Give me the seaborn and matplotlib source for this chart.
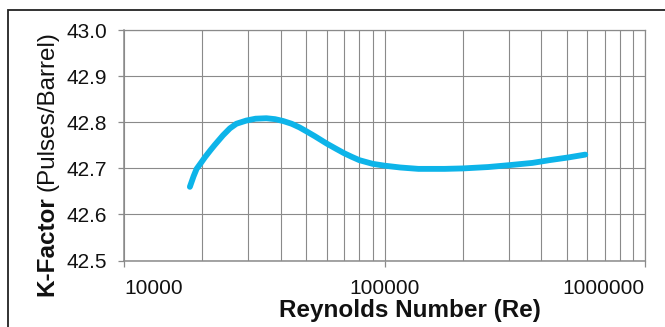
import matplotlib
matplotlib.use("Agg")
import matplotlib.pyplot as plt
import matplotlib.ticker as mticker
from matplotlib.patches import Rectangle
import pandas as pd
import seaborn as sns

# --- DATA ---
reynolds = [17900, 18500, 19000, 19800, 20500, 21500, 22300, 24000, 25500,
            27000, 29500, 32000, 35200, 38000, 40800, 44000, 47200, 50000,
            54000, 60000, 65000, 70000, 75000, 80000, 90000, 100000, 115000,
            135000, 170000, 200000, 250000, 300000, 370000, 430000, 510000,
            590000]
k_factor = [42.660, 42.683, 42.699, 42.713, 42.725, 42.740, 42.751, 42.772,
            42.787, 42.797, 42.804, 42.808, 42.809, 42.807, 42.803, 42.797,
            42.789, 42.781, 42.770, 42.754, 42.743, 42.733, 42.725, 42.718,
            42.710, 42.706, 42.702, 42.699, 42.699, 42.700, 42.703, 42.707,
            42.712, 42.718, 42.724, 42.730]
y_ticks = [42.5, 42.6, 42.7, 42.8, 42.9, 43.0]
x_ticks = [10000, 100000, 1000000]

LINE_COLOR = "#0DB4E9"
GRID_COLOR = "#8a8a8a"

sns.set_theme(style="white")
plt.rcParams["font.family"] = ["Liberation Sans", "DejaVu Sans"]

df = pd.DataFrame({"Re": reynolds, "K": k_factor})

W, H = 665, 327
fig = plt.figure(figsize=(W / 100, H / 100), dpi=100)
ax = fig.add_axes([124 / W, 1 - 260.5 / H, (645 - 124) / W, (260.5 - 30.3) / H])

line = sns.lineplot(data=df, x="Re", y="K", ax=ax, color=LINE_COLOR,
                    linewidth=4.2, zorder=3)
for ln in ax.get_lines():
    ln.set_solid_capstyle("round")
    ln.set_solid_joinstyle("round")

ax.set_xscale("log")
ax.set_xlim(1e4, 1e6)
ax.set_ylim(42.5, 43.0)

ax.xaxis.set_major_locator(mticker.FixedLocator(x_ticks))
ax.xaxis.set_major_formatter(mticker.FuncFormatter(lambda v, p: f"{int(round(v))}"))
ax.xaxis.set_minor_locator(mticker.LogLocator(base=10, subs=range(2, 10)))
ax.xaxis.set_minor_formatter(mticker.NullFormatter())
ax.yaxis.set_major_locator(mticker.FixedLocator(y_ticks))
ax.yaxis.set_major_formatter(mticker.FormatStrFormatter("%.1f"))

ax.grid(True, which="both", color=GRID_COLOR, linewidth=0.8)
ax.set_axisbelow(True)
for s in ax.spines.values():
    s.set_color(GRID_COLOR)
    s.set_linewidth(0.9)
ax.spines["left"].set_linewidth(1.1)
ax.spines["bottom"].set_linewidth(1.1)

ax.tick_params(axis="both", which="major", direction="out", length=4,
               width=0.9, color=GRID_COLOR, labelsize=15, labelcolor="#111111",
               bottom=True, left=True)
ax.tick_params(axis="x", which="major", pad=9)
ax.tick_params(axis="y", which="major", pad=8)
ax.tick_params(axis="x", which="minor", length=0)

labels = ax.get_xticklabels()
labels[0].set_ha("left")
labels[-1].set_ha("right")

ax.set_xlabel("")
ax.set_ylabel("")

# axis titles
fig.text(409.5 / W, 1 - 316.5 / H, "Reynolds Number (Re)", ha="center",
         va="baseline", fontsize=17.5, fontweight="bold", color="#111111")

renderer = fig.canvas.get_renderer()
y0 = 296.5
t1 = fig.text(53 / W, 1 - y0 / H, "K-Factor", rotation=90, rotation_mode="anchor",
              ha="left", va="baseline", fontsize=17.5, fontweight="bold",
              color="#111111")
h1 = t1.get_window_extent(renderer).height
fig.text(53 / W, 1 - (y0 - h1 - 6) / H, "(Pulses/Barrel)", rotation=90,
         rotation_mode="anchor", ha="left", va="baseline", fontsize=17.5,
         color="#111111")

# outer chart frame (cut off at right and bottom like the reference)
fig.patches.append(Rectangle((8 / W, -0.2), 1.2, 1.2 - 10 / H,
                             transform=fig.transFigure, fill=False,
                             edgecolor="#222222", linewidth=1.3))

fig.savefig("out.png", dpi=100)
plt.close(fig)
